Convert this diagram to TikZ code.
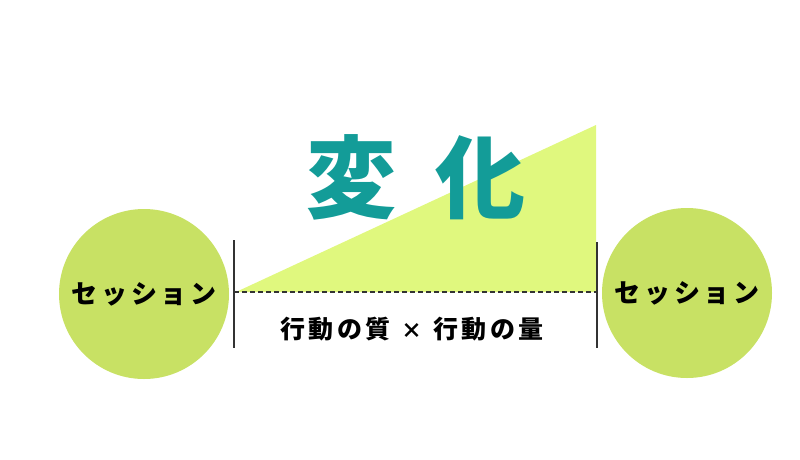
\documentclass[tikz,border=0pt]{standalone}
\usepackage{fontspec}
\usepackage{tikz}
\usetikzlibrary{positioning}
\newfontfamily\jpfont{Noto Sans CJK JP Black}
\newfontfamily\jpfontwide{Noto Sans CJK JP Black}[LetterSpace=14]
\definecolor{sessiongreen}{HTML}{C8E164}
\definecolor{wedgegreen}{HTML}{E0F87E}
\definecolor{changeteal}{HTML}{139C98}

\begin{document}
\begin{tikzpicture}[x=1pt, y=-1pt,
    session/.style={circle, fill=sessiongreen, minimum size=170pt, inner sep=0pt,
      font=\jpfontwide\fontsize{26}{26}\selectfont},
    bar/.style={line width=1.3pt, black!80}]
    \useasboundingbox (0, 0) rectangle (800, 459);

    \coordinate (wedgeL) at (236, 292);
    \coordinate (wedgeR) at (596, 292);
    \coordinate (wedgeT) at (596, 125);
    \fill [wedgegreen] (wedgeL) -- (wedgeR) -- (wedgeT) -- cycle;

    \node [session] (sessionL) at (144, 294) {セッション};
    \node [session] (sessionR) at (687, 293) {セッション};

    \coordinate (barLtop) at (234, 240);
    \coordinate (barLbot) at (234, 348);
    \coordinate (barRtop) at (597, 242);
    \coordinate (barRbot) at (597, 348);
    \draw [bar] (barLtop) -- (barLbot);
    \draw [bar] (barRtop) -- (barRbot);
    \draw [line width=1.2pt, black!80, dash pattern=on 5pt off 3pt] (barLtop |- wedgeL) -- (barRtop |- wedgeR);

    \node [text=changeteal, font=\jpfont\fontsize{90}{90}\selectfont] (change) at (416, 177) {変\hspace{40pt}化};
    \node [font=\jpfontwide\fontsize{25}{25}\selectfont] (action) at (412, 329) {行動の質\hspace{11pt}{\fontsize{21}{21}\selectfont ×}\hspace{11pt}行動の量};
  \end{tikzpicture}
\end{document}
